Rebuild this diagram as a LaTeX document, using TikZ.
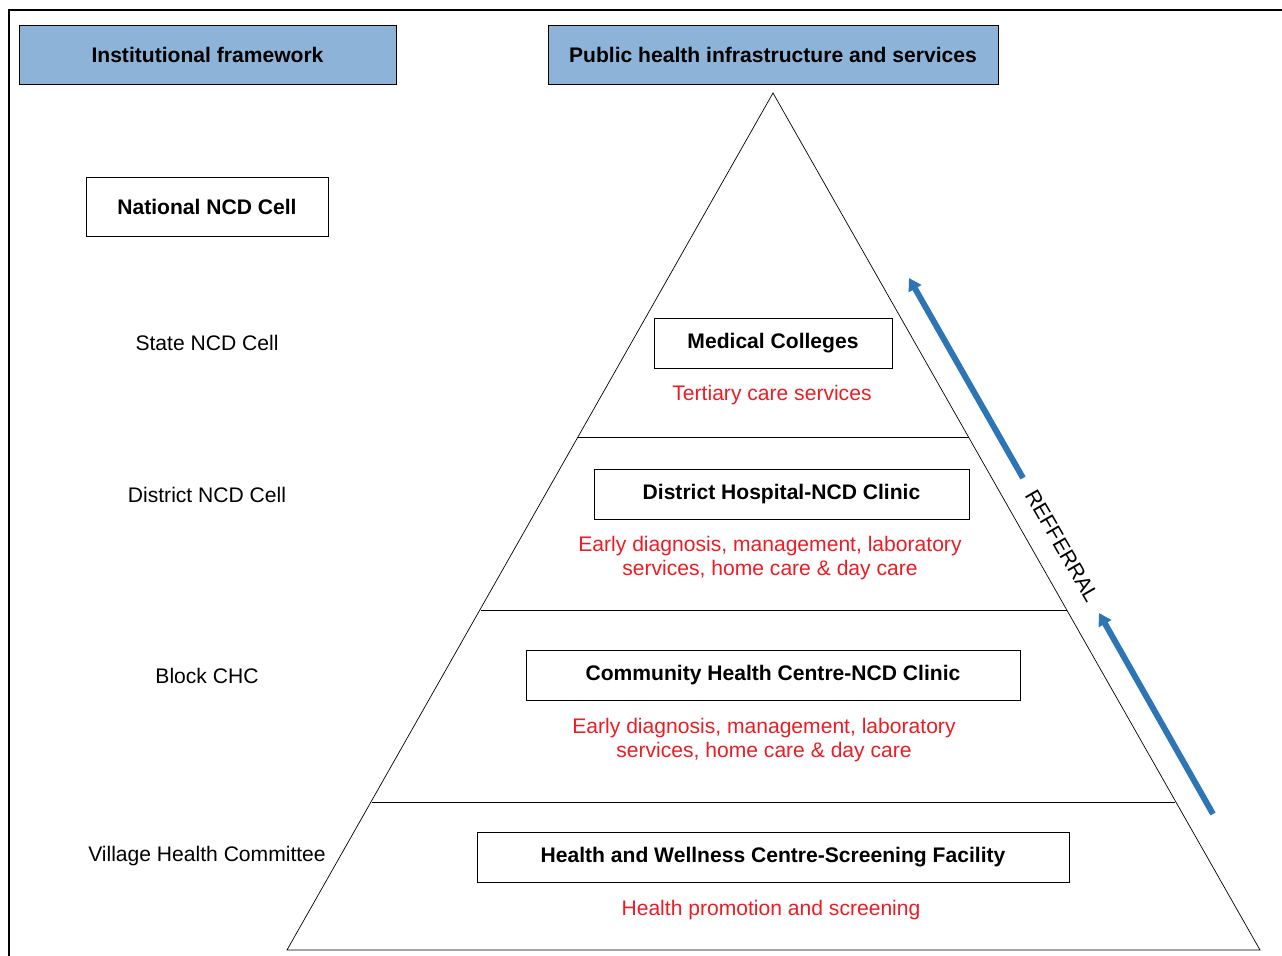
\documentclass[tikz,border=0pt]{standalone}
\usepackage{fontspec}
\setmainfont{Liberation Sans}
\usetikzlibrary{arrows.meta}
\definecolor{hdrblue}{RGB}{141,180,216}
\definecolor{refblue}{RGB}{46,117,182}
\definecolor{notered}{RGB}{237,28,36}
\newcommand{\twelve}{\fontsize{12}{13.7}\selectfont}
\tikzset{
  hdr/.style={draw,fill=hdrblue,font=\twelve\bfseries,minimum height=1.18cm,inner sep=0pt},
  unit/.style={draw,font=\twelve\bfseries,minimum height=1cm,inner sep=0pt},
  note/.style={text=notered,align=center},
  refarrow/.style={refblue,line width=3.4pt,-{Triangle[length=7pt,width=8pt]}},
}
\begin{document}
\begin{tikzpicture}[x=0.02cm,y=-0.02cm,font=\twelve]
  \useasboundingbox (0,0) rectangle (1282,956);
  \draw[line width=0.8pt] (1282,10) -- (9,10) -- (9,956);
  % headers
  \node[hdr,minimum width=7.54cm] (inst) at (207.5,54.5) {Institutional framework};
  \node[hdr,minimum width=9cm] (infra) at (773,54.5) {Public health infrastructure and services};
  % institutional levels
  \node[unit,minimum width=4.84cm,minimum height=1.18cm] (national) at (207,206.5) {National NCD Cell};
  \node (state) at (207,343) {State NCD Cell};
  \node (district) at (207,495) {District NCD Cell};
  \node (block) at (207,676) {Block CHC};
  \node (village) at (207,856) {Village Health Committee};
  % pyramid
  \coordinate (apex) at (773,93);
  \coordinate (bl) at (287,950);
  \coordinate (br) at (1260,950);
  \draw (apex) -- (bl) -- (br) -- cycle;
  \draw (578,437) -- (969,437);
  \draw (481,610) -- (1067,610);
  \draw (372,802) -- (1175,802);
  % facilities
  \node[unit,minimum width=4.76cm] (mc) at (773,343) {Medical Colleges};
  \node[note] (mcnote) at (772,395) {Tertiary care services};
  \node[unit,minimum width=7.5cm] (dh) at (781.5,494) {District Hospital-NCD Clinic};
  \node[note] (dhnote) at (770,558) {Early diagnosis, management, laboratory\\services, home care \& day care};
  \node[unit,minimum width=9.88cm] (chc) at (773,675) {Community Health Centre-NCD Clinic};
  \node[note] (chcnote) at (764,740) {Early diagnosis, management, laboratory\\services, home care \& day care};
  \node[unit,minimum width=11.84cm] (hwc) at (773,857) {Health and Wellness Centre-Screening Facility};
  \node[note] (hwcnote) at (771,910) {Health promotion and screening};
  % referral
  \draw[refarrow] (1023,478) -- (909,278);
  \draw[refarrow] (1213,814) -- (1099,613);
  \node[rotate=-60] (ref) at (1062,546) {REFFERRAL};
\end{tikzpicture}
\end{document}
